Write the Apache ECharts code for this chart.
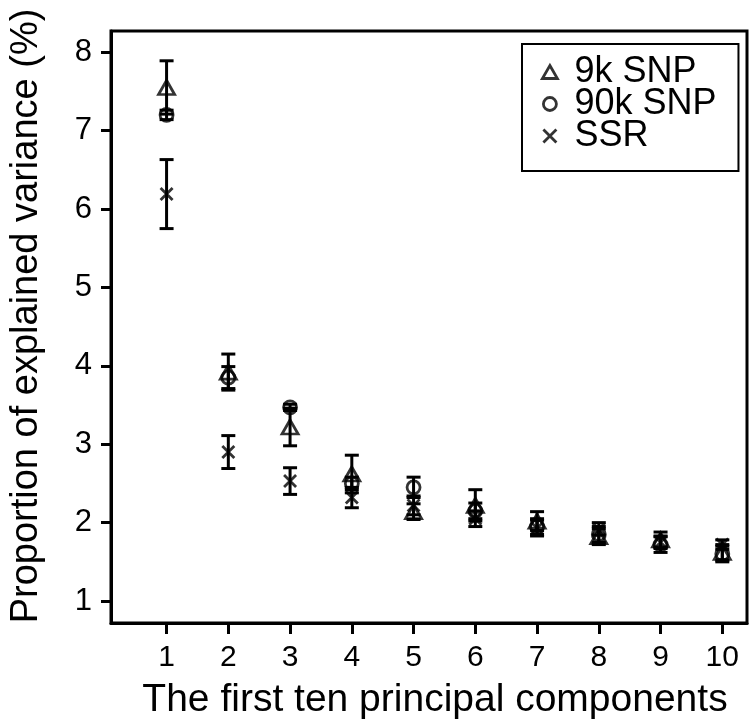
<!DOCTYPE html>
<html>
<head>
<meta charset="utf-8">
<script src="https://cdn.jsdelivr.net/npm/echarts@6/dist/echarts.min.js"></script>
<style>
  html, body { margin: 0; padding: 0; background: #fff; }
  #chart { width: 751px; height: 725px; }
</style>
</head>
<body>
<div id="chart"></div>
<script>
// principal components 1..10
const components = [1, 2, 3, 4, 5, 6, 7, 8, 9, 10];
// mean proportion of explained variance (%) and error (+/-)
const snp9 = [7.55, 3.92, 3.22, 2.62, 2.14, 2.22, 2.02, 1.82, 1.78, 1.62];
const snp9Err = [0.34, 0.23, 0.24, 0.24, 0.10, 0.20, 0.12, 0.10, 0.10, 0.10];
const snp90 = [7.20, 3.85, 3.47, 2.50, 2.45, 2.15, 1.95, 1.85, 1.72, 1.60];
const snp90Err = [0.06, 0.14, 0.04, 0.08, 0.13, 0.10, 0.10, 0.10, 0.10, 0.10];
const ssr = [6.19, 2.90, 2.53, 2.32, 2.22, 2.05, 1.93, 1.92, 1.75, 1.72];
const ssrErr = [0.44, 0.21, 0.17, 0.13, 0.12, 0.10, 0.10, 0.08, 0.08, 0.06];
const yTicks = [1, 2, 3, 4, 5, 6, 7, 8];

const FONT = "'Liberation Sans', Arial, sans-serif";

function points(vals) {
  return components.map((c, i) => [c, vals[i]]);
}
function bars(vals, errs) {
  return components.map((c, i) => [c, vals[i] - errs[i], vals[i] + errs[i]]);
}

// error bars drawn with a custom series
function errorBarSeries(vals, errs) {
  return {
    type: "custom",
    silent: true,
    z: 1,
    data: bars(vals, errs),
    renderItem(params, api) {
      const lo = api.coord([api.value(0), api.value(1)]);
      const hi = api.coord([api.value(0), api.value(2)]);
      const w = 7;
      const st = { stroke: "#000", lineWidth: 3 };
      return {
        type: "group",
        children: [
          { type: "line", shape: { x1: lo[0], y1: lo[1], x2: hi[0], y2: hi[1] }, style: st },
          { type: "line", shape: { x1: lo[0] - w, y1: lo[1], x2: lo[0] + w, y2: lo[1] }, style: st },
          { type: "line", shape: { x1: hi[0] - w, y1: hi[1], x2: hi[0] + w, y2: hi[1] }, style: st },
        ],
      };
    },
  };
}

const markerStyle = { color: "transparent", borderColor: "#000", borderWidth: 2.8 };
const crossPath = "path://M0 0L10 10M10 0L0 10";

const chart = echarts.init(document.getElementById("chart"));
chart.setOption({
  animation: false,
  backgroundColor: "#fff",
  textStyle: { fontFamily: FONT },
  grid: {
    left: 111, top: 31, right: 4, bottom: 98,
    show: true, borderColor: "#000", borderWidth: 3,
  },
  legend: {
    orient: "vertical",
    left: 522, top: 44,
    padding: [10, 22, 17, 19],
    borderColor: "#000", borderWidth: 2,
    itemGap: -4,
    itemWidth: 15, itemHeight: 13,
    textStyle: { fontFamily: FONT, fontSize: 36, color: "#000", lineHeight: 36, padding: [0, 0, 0, 12] },
    data: [
      { name: "9k SNP", icon: "triangle", itemStyle: markerStyle },
      { name: "90k SNP", icon: "circle", itemStyle: markerStyle },
      { name: "SSR", icon: crossPath, itemStyle: markerStyle },
    ],
  },
  xAxis: {
    type: "value",
    min: 0.1, max: 10.4,
    name: "The first ten principal components",
    nameLocation: "middle",
    nameGap: 58,
    nameTextStyle: { fontFamily: FONT, fontSize: 39, color: "#000", padding: [0, 0, 0, 12] },
    axisLine: { show: true, lineStyle: { color: "#000", width: 3 } },
    axisTick: { show: true, length: 11, lineStyle: { color: "#000", width: 3 }, customValues: components },
    axisLabel: { fontFamily: FONT, fontSize: 30, color: "#000", margin: 20, customValues: components },
    splitLine: { show: false },
  },
  yAxis: {
    type: "value",
    min: 0.72, max: 8.27,
    name: "Proportion of explained variance (%)",
    nameLocation: "middle",
    nameGap: 65,
    nameTextStyle: { fontFamily: FONT, fontSize: 38, color: "#000", padding: [0, 0, 0, 22] },
    axisLine: { show: true, lineStyle: { color: "#000", width: 3 } },
    axisTick: { show: true, length: 10, lineStyle: { color: "#000", width: 3 }, customValues: yTicks },
    axisLabel: { fontFamily: FONT, fontSize: 31, color: "#000", margin: 19, customValues: yTicks },
    splitLine: { show: false },
  },
  series: [
    errorBarSeries(snp9, snp9Err),
    errorBarSeries(snp90, snp90Err),
    errorBarSeries(ssr, ssrErr),
    {
      name: "9k SNP", type: "scatter", z: 3,
      symbol: "triangle", symbolSize: [16, 14],
      itemStyle: markerStyle,
      data: points(snp9),
    },
    {
      name: "90k SNP", type: "scatter", z: 3,
      symbol: "circle", symbolSize: 13,
      itemStyle: markerStyle,
      data: points(snp90),
    },
    {
      name: "SSR", type: "scatter", z: 3,
      symbol: crossPath, symbolSize: 12,
      itemStyle: markerStyle,
      data: points(ssr),
    },
  ],
});
</script>
</body>
</html>
